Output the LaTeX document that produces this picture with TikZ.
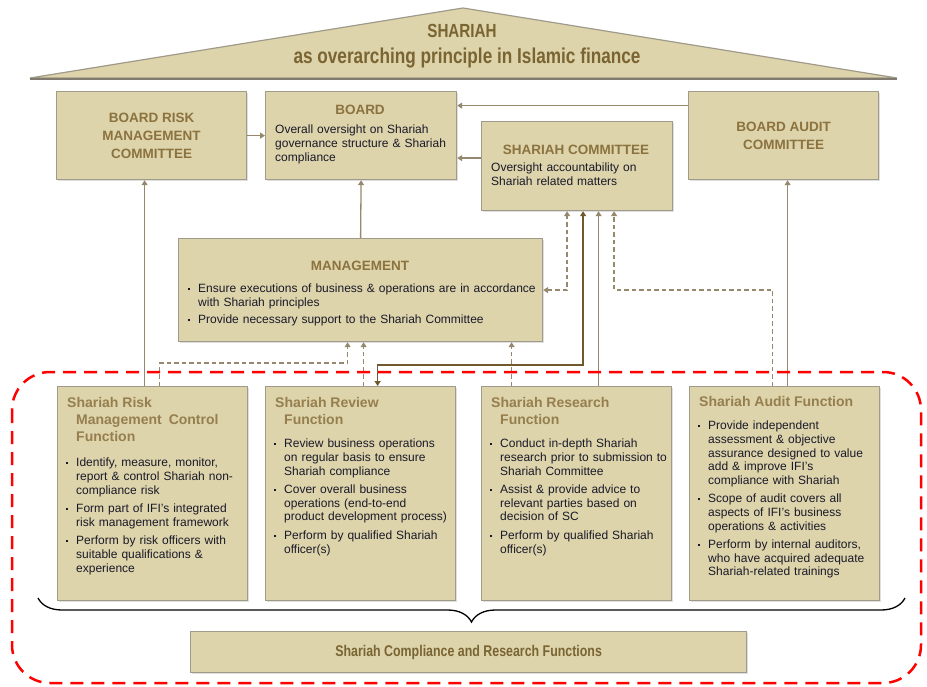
\documentclass[tikz,border=0pt]{standalone}
\usepackage{fontspec}
\setmainfont{Liberation Sans}
\newfontfamily\narrowfont[FakeStretch=0.8]{Liberation Sans}
\usetikzlibrary{arrows.meta,decorations.pathreplacing,shadows}

\definecolor{boxfill}{RGB}{221,212,171}
\definecolor{boxline}{RGB}{160,154,138}
\definecolor{titlecol}{RGB}{139,114,62}
\definecolor{ftitlecol}{RGB}{150,126,78}
\definecolor{roofcol}{RGB}{122,100,50}
\definecolor{bodycol}{RGB}{25,25,40}
\definecolor{linecol}{RGB}{150,136,108}
\definecolor{darkline}{RGB}{110,90,45}

\newcommand{\bul}[1]{\par\hangindent=10pt\hangafter=1\noindent\makebox[10pt][l]{\raisebox{2.5pt}{\rule{2.2pt}{2.2pt}}}#1\par}

\begin{document}
\begin{tikzpicture}[x=1pt,y=-1pt,
	>={Triangle[length=5pt,width=6pt]},
	box/.style={draw=boxline, fill=boxfill, line width=1.2pt, inner sep=0pt, anchor=north west,
		drop shadow={shadow xshift=1.5pt, shadow yshift=-1.5pt, fill=black!25}},
	btitle/.style={font=\bfseries\fontsize{13.5}{18}\selectfont, text=titlecol, align=center, inner sep=0pt},
	ftitle/.style={anchor=north west, inner sep=0pt, align=left, font=\bfseries\fontsize{14}{17}\selectfont, text=ftitlecol},
	body/.style={anchor=north west, inner sep=0pt, text width=#1, align=left, font=\fontsize{12}{13.6}\selectfont, text=bodycol},
	body/.default=180pt,
	conn/.style={draw=linecol, line width=1.3pt, ->},
	dconn/.style={conn, dash pattern=on 4.5pt off 3pt},
	dkconn/.style={draw=darkline, line width=1.6pt, <->}]

	\useasboundingbox (0,0) rectangle (927,687);

	% roof
	\draw[fill=boxfill, draw=boxline, line width=1.2pt] (30,78) -- (463,8) -- (897,78) -- cycle;
	\draw[boxline!80!black, line width=2.5pt] (30,79) -- (897,79);
	\node[font=\narrowfont\bfseries\fontsize{19}{24}\selectfont, text=roofcol] (shariah) at (462,31) {SHARIAH};
	\node[font=\narrowfont\bfseries\fontsize{21.5}{24}\selectfont, text=roofcol] (principle) at (467,58) {as overarching principle in Islamic finance};

	% board level
	\node[box, minimum width=190pt, minimum height=88pt] (brmc) at (56,91) {};
	\node[btitle] (brmc-t) at (brmc) {BOARD RISK\\MANAGEMENT\\COMMITTEE};
	\node[box, minimum width=191pt, minimum height=88pt] (board) at (265,91) {};
	\node[btitle] (board-t) at (360,110) {BOARD};
	\node[body=185pt] (board-b) at (275,125) {Overall oversight on Shariah\newline governance structure \& Shariah\newline compliance};
	\node[box, minimum width=191pt, minimum height=89pt] (sc) at (481,121) {};
	\node[btitle] (sc-t) at (576,150) {SHARIAH COMMITTEE};
	\node[body] (sc-b) at (491,163) {Oversight accountability on\newline Shariah related matters};
	\node[box, minimum width=190pt, minimum height=88pt] (bac) at (688,91) {};
	\node[btitle] (bac-t) at (bac) {BOARD AUDIT\\COMMITTEE};

	% management
	\node[box, minimum width=364pt, minimum height=103pt] (mgmt) at (178,238) {};
	\node[btitle] (mgmt-t) at (360,266) {MANAGEMENT};
	\node[body=350pt] (mgmt-b) at (188,279) {\bul{Ensure executions of business \& operations are in accordance\newline with Shariah principles}\vskip4pt\bul{Provide necessary support to the Shariah Committee}};

	% functions
	\foreach \x/\n in {57/frisk, 265/freview, 481/fresearch, 689/faudit}
		\node[box, minimum width=190pt, minimum height=214pt] (\n) at (\x,386) {};

	\node[ftitle] (frisk-t) at (67,397) {Shariah Risk\\\hspace*{9pt}Management\hspace{0.5em}Control\\\hspace*{9pt}Function};
	\node[body] (frisk-b) at (66,453) {\bul{Identify, measure, monitor,\newline report \& control Shariah non-\newline compliance risk}\vskip5pt
		\bul{Form part of IFI’s integrated\newline risk management framework}\vskip5pt
		\bul{Perform by risk officers with\newline suitable qualifications \&\newline experience}};

	\node[ftitle] (freview-t) at (275,397) {Shariah Review\\\hspace*{9pt}Function};
	\node[body] (freview-b) at (274,434) {\bul{Review business operations\newline on regular basis to ensure\newline Shariah compliance}\vskip5pt
		\bul{Cover overall business\newline operations (end-to-end\newline product development process)}\vskip5pt
		\bul{Perform by qualified Shariah\newline officer(s)}};

	\node[ftitle] (fresearch-t) at (491,397) {Shariah Research\\\hspace*{9pt}Function};
	\node[body] (fresearch-b) at (490,434) {\bul{Conduct in-depth Shariah\newline research prior to submission to\newline Shariah Committee}\vskip5pt
		\bul{Assist \& provide advice to\newline relevant parties based on\newline decision of SC}\vskip5pt
		\bul{Perform by qualified Shariah\newline officer(s)}};

	\node[ftitle] (faudit-t) at (699,396) {Shariah Audit Function};
	\node[body] (faudit-b) at (698,416) {\bul{Provide independent\newline assessment \& objective\newline assurance designed to value\newline add \& improve IFI’s\newline compliance with Shariah}\vskip5pt
		\bul{Scope of audit covers all\newline aspects of IFI’s business\newline operations \& activities}\vskip5pt
		\bul{Perform by internal auditors,\newline who have acquired adequate\newline Shariah-related trainings}};

	% bottom
	\draw[decorate, decoration={brace, mirror, amplitude=24pt, aspect=0.5}, line width=1.3pt] (38,598) -- (905,598);
	\node[box, minimum width=556pt, minimum height=41pt] (scrf) at (190,631) {};
	\node[font=\narrowfont\bfseries\fontsize{15.5}{18}\selectfont, text=roofcol] (scrf-t) at (scrf) {Shariah Compliance and Research Functions};

	% connectors
	\draw[conn] (brmc.east) -- (board.west);
	\draw[conn] ([yshift=30pt]bac.west) -- ([yshift=30pt]board.east);
	\draw[conn] ([yshift=8pt]sc.west) -- ([yshift=8pt]sc.west -| board.east);
	\draw[conn] (mgmt.north) -- (board.south);
	\draw[conn] ([xshift=-8pt]frisk.north) -- ([xshift=-8pt]frisk.north |- brmc.south);
	\draw[conn] ([xshift=3pt]faudit.north) -- ([xshift=3pt]faudit.north |- bac.south);
	\draw[dconn] ([xshift=7pt]frisk.north) -- ++(0,-23) -| ([xshift=-13pt]mgmt.south);
	\draw[dconn] ([xshift=3pt]freview.north) -- ([xshift=3pt]freview.north |- mgmt.south);
	\draw[dkconn] ([xshift=6pt]sc.south) -- ++(0,154) -| ([xshift=17pt]freview.north);
	\draw[conn] ([xshift=22pt]fresearch.north) -- ([xshift=22pt]fresearch.north |- sc.south);
	\draw[dconn] ([xshift=-65pt]fresearch.north) -- ([xshift=-65pt]fresearch.north |- mgmt.south);
	\draw[dconn, <->] (mgmt.east) -| ([xshift=-10pt]sc.south);
	\draw[dconn] ([xshift=-12pt]faudit.north) -- ([xshift=-12pt]faudit.north |- mgmt.east) -| ([xshift=37pt]sc.south);

	% compliance region
	\draw[red, line width=2.5pt, dash pattern=on 13pt off 8pt, rounded corners=38pt] (12,372) rectangle (921,683);

\end{tikzpicture}
\end{document}
